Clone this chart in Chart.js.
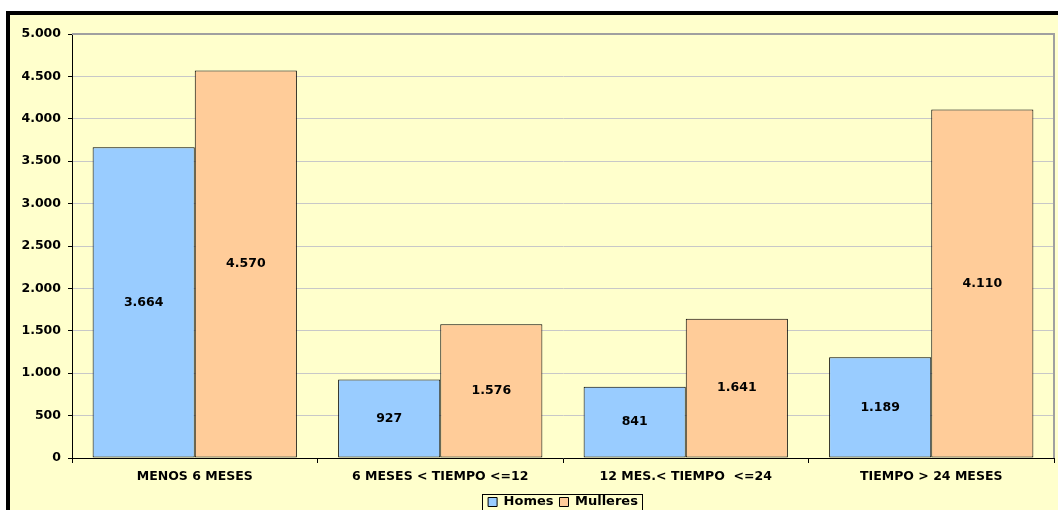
<!DOCTYPE html>
<html>
<head>
<meta charset="utf-8">
<script src="https://cdn.jsdelivr.net/npm/chart.js@4.4.1/dist/chart.umd.min.js"></script>
<style>
  html, body { margin: 0; padding: 0; background: #fff; }
  #wrap { width: 1058px; height: 510px; }
</style>
</head>
<body>
<div id="wrap"><canvas id="tiempoChart" width="1058" height="510"></canvas></div>
<script>
const categories = ['MENOS 6 MESES', '6 MESES < TIEMPO <=12', '12 MES.< TIEMPO  <=24', 'TIEMPO > 24 MESES'];
const homes = [3664, 927, 841, 1189];
const mulleres = [4570, 1576, 1641, 4110];
const seriesNames = ['Homes', 'Mulleres'];

const FONT = "'DejaVu Sans', sans-serif";

// 1234 -> "1.234"
function fmt(v) {
    return String(Math.round(v)).replace(/\B(?=(\d{3})+(?!\d))/g, '.');
}

// yellow background with the thick black frame, and grey plot border
const framePlugin = {
    id: 'frame',
    beforeDraw(chart) {
        const ctx = chart.ctx;
        ctx.save();
        ctx.fillStyle = '#fff';
        ctx.fillRect(0, 0, chart.width, chart.height);
        ctx.fillStyle = '#000';
        ctx.fillRect(6, 11, chart.width, chart.height);
        ctx.fillStyle = '#FFFFCC';
        ctx.fillRect(10, 15, chart.width, chart.height);
        ctx.restore();
    },
    afterDatasetsDraw(chart) {
        const {ctx, chartArea: a} = chart;
        ctx.save();
        ctx.strokeStyle = '#A0A0A0';
        ctx.lineWidth = 2;
        ctx.beginPath();
        ctx.moveTo(a.left, a.top);
        ctx.lineTo(a.right, a.top);
        ctx.lineTo(a.right, a.bottom);
        ctx.stroke();
        ctx.restore();
    }
};

// values written in the middle of each bar
const valueLabels = {
    id: 'valueLabels',
    afterDatasetsDraw(chart) {
        const ctx = chart.ctx;
        ctx.save();
        ctx.font = 'bold 12.5px ' + FONT;
        ctx.fillStyle = '#000';
        ctx.textAlign = 'center';
        ctx.textBaseline = 'middle';
        chart.data.datasets.forEach((ds, i) => {
            chart.getDatasetMeta(i).data.forEach((bar, j) => {
                ctx.fillText(fmt(ds.data[j]), bar.x, (bar.y + bar.base) / 2);
            });
        });
        ctx.restore();
    }
};

// box round the legend
const legendBox = {
    id: 'legendBox',
    afterDraw(chart) {
        const hb = chart.legend.legendHitBoxes;
        if (!hb || !hb.length) return;
        const last = hb[hb.length - 1];
        const ctx = chart.ctx;
        ctx.save();
        ctx.strokeStyle = '#000';
        ctx.lineWidth = 1;
        const x0 = Math.round(hb[0].left - 6) + 0.5;
        const x1 = Math.round(last.left + last.width + 4) + 0.5;
        const y0 = Math.round(hb[0].top - 2) + 0.5;
        ctx.strokeRect(x0, y0, x1 - x0, 30);
        ctx.restore();
    }
};

const ctx = document.getElementById('tiempoChart').getContext('2d');
const tiempoChart = new Chart(ctx, {
    type: 'bar',
    data: {
        labels: categories,
        datasets: [{
            label: seriesNames[0],
            data: homes,
            backgroundColor: '#99CCFF',
            borderColor: '#000',
            borderWidth: 1,
            borderSkipped: false
        }, {
            label: seriesNames[1],
            data: mulleres,
            backgroundColor: '#FFCC99',
            borderColor: '#000',
            borderWidth: 1,
            borderSkipped: false
        }]
    },
    options: {
        responsive: false,
        animation: false,
        layout: { padding: { left: 0, right: 4, top: 34, bottom: -8.5 } },
        categoryPercentage: 0.832,
        barPercentage: 1,
        plugins: {
            tooltip: { enabled: false },
            legend: {
                position: 'bottom',
                fullSize: false,
                labels: {
                    font: { family: FONT, size: 13, weight: 'bold', lineHeight: 1 },
                    color: '#000',
                    boxWidth: 9,
                    boxHeight: 9,
                    padding: 6
                }
            }
        },
        scales: {
            x: {
                afterFit(scale) { scale.height = 31.5; },
                grid: { drawOnChartArea: false, tickLength: 5, color: '#000' },
                border: { color: '#000', width: 1 },
                ticks: {
                    color: '#000',
                    padding: 6,
                    maxRotation: 0,
                    autoSkip: false,
                    font: { family: FONT, size: 12.5, weight: 'bold' }
                }
            },
            y: {
                min: 0,
                max: 5000,
                afterFit(scale) { scale.width = 72; },
                grid: { color: '#C8C8C8', tickLength: 4, tickColor: '#000' },
                border: { color: '#000', width: 1 },
                ticks: {
                    stepSize: 500,
                    color: '#000',
                    padding: 7,
                    font: { family: FONT, size: 12.5, weight: 'bold' },
                    callback: (v) => fmt(v)
                }
            }
        }
    },
    plugins: [framePlugin, valueLabels, legendBox]
});
</script>
</body>
</html>
